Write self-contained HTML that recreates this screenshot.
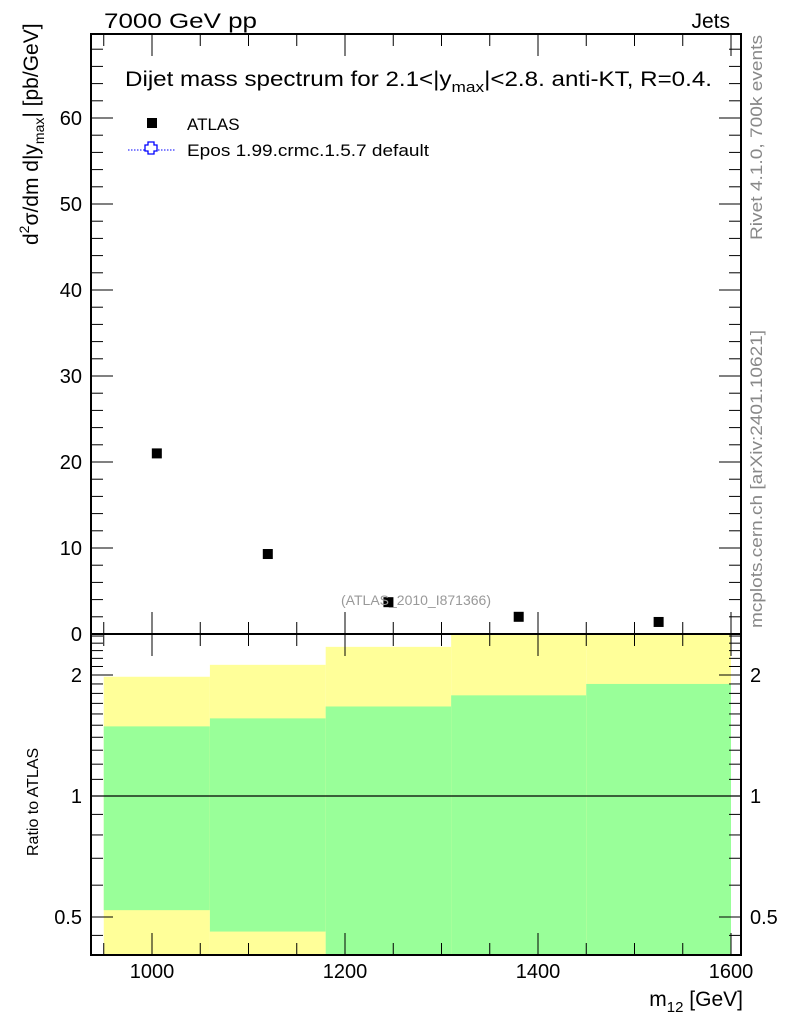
<!DOCTYPE html>
<html><head><meta charset="utf-8"><style>
body{margin:0;background:#fff;}
text{font-family:"Liberation Sans",sans-serif;}
</style></head><body>
<svg id="c" width="786" height="1024" xmlns="http://www.w3.org/2000/svg">
<g id="bands"></g>
<g id="axes"></g>
<g id="marks"></g>
<text x="104" y="28" font-size="21" textLength="153" lengthAdjust="spacingAndGlyphs">7000 GeV pp</text>
<text x="730" y="28" font-size="21" text-anchor="end">Jets</text>
<text x="125" y="86" font-size="21" textLength="587" lengthAdjust="spacingAndGlyphs">Dijet mass spectrum for 2.1&lt;|y<tspan font-size="15" dy="6">max</tspan><tspan dy="-6">|&lt;2.8.  anti-KT, R=0.4.</tspan></text>
<rect x="147" y="118" width="10" height="10" fill="#000"/>
<text x="187" y="130" font-size="17">ATLAS</text>
<line x1="128" y1="150" x2="175" y2="150" stroke="#00f" stroke-dasharray="1.5,1.5"/>
<path d="M148,145h6v3h3v6h-3v3h-6v-3h-3v-6h3z" transform="translate(0,-3)" fill="#fff" stroke="#00f" stroke-width="1.3"/>
<text x="187" y="156" font-size="17" textLength="242" lengthAdjust="spacingAndGlyphs">Epos 1.99.crmc.1.5.7 default</text>
<text x="416" y="605" font-size="14" fill="#999" text-anchor="middle">(ATLAS_2010_I871366)</text>
<text transform="translate(762,240) rotate(-90)" font-size="17" fill="#888" textLength="205" lengthAdjust="spacingAndGlyphs">Rivet 4.1.0,  700k events</text>
<text transform="translate(762,628) rotate(-90)" font-size="17" fill="#888" textLength="298" lengthAdjust="spacingAndGlyphs">mcplots.cern.ch [arXiv:2401.10621]</text>
<text transform="translate(38,245) rotate(-90)" font-size="21">d<tspan font-size="14" dy="-9">2</tspan><tspan dy="9">σ/dm d|y</tspan><tspan font-size="14" dy="6">max</tspan><tspan dy="-6">| [pb/GeV]</tspan></text>
<text transform="translate(38,856) rotate(-90)" font-size="16">Ratio to ATLAS</text>
<text x="743" y="1006" font-size="21" text-anchor="end">m<tspan font-size="15" dy="6">12</tspan><tspan dy="-6"> [GeV]</tspan></text>
</svg>
<script>
const massPoints=[1005,1120,1245,1380,1525];
const atlasValues=[21,9.3,3.7,2.0,1.4];
const binEdges=[950,1060,1180,1310,1450,1600];
const yellowHi=[1.98,2.12,2.35,2.6,2.6];
const greenHi=[1.49,1.56,1.67,1.78,1.9];
const greenLo=[0.52,0.46,0.3,0.3,0.3];
const yellowLo=[0.3,0.3,0.3,0.3,0.3];
const xTicks=[1000,1200,1400,1600];
const yTicks=[0,10,20,30,40,50,60];
const rTicks=[0.5,1,2];
const L=91,R=741,T=34,M=634,B=955;
const X=v=>152+(v-1000)*0.965;
const Y=v=>634-v*8.6;
const RY=v=>796-Math.log2(v)*121;
const NS='http://www.w3.org/2000/svg';
function mk(p,t,a){const e=document.createElementNS(NS,t);for(const k in a)e.setAttribute(k,a[k]);document.getElementById(p).appendChild(e);return e;}
const clipT=v=>Math.max(M,Math.min(B,RY(v)));
for(let i=0;i<binEdges.length-1;i++){
 const x1=X(binEdges[i]),x2=X(binEdges[i+1]);
 let e=mk('bands','rect',{x:x1,y:clipT(yellowHi[i]),width:x2-x1,height:clipT(yellowLo[i])-clipT(yellowHi[i]),fill:'#ffff99'});
 
 
 e=mk('bands','rect',{x:x1,y:clipT(greenHi[i]),width:x2-x1,height:clipT(greenLo[i])-clipT(greenHi[i]),fill:'#99ff99'});
 
 
}
let ln=mk('axes','line',{x1:L,y1:RY(1),x2:R,y2:RY(1),stroke:'#000','stroke-width':1.2});


let fr=mk('axes','rect',{x:L,y:T,width:R-L,height:B-T,fill:'none',stroke:'#000','stroke-width':2});


mk('axes','line',{x1:L,y1:M,x2:R,y2:M,stroke:'#000','stroke-width':2});
for(let v=950;v<=1600;v+=50){const x=X(v),maj=v%200==0,len=maj?22:12;
 mk('axes','line',{x1:x,y1:T,x2:x,y2:T+len,stroke:'#000'});
 mk('axes','line',{x1:x,y1:M-len,x2:x,y2:M+len,stroke:'#000'});
 mk('axes','line',{x1:x,y1:B-len,x2:x,y2:B,stroke:'#000'});}
xTicks.forEach(v=>{const t=mk('axes','text',{x:X(v),y:978,'font-size':20,'text-anchor':'middle'});t.textContent=v;
 
 });
for(let v=0;v<=68;v+=2){const y=Y(v),len=v%10==0?22:12;
 mk('axes','line',{x1:L,y1:y,x2:L+len,y2:y,stroke:'#000'});
 mk('axes','line',{x1:R-len,y1:y,x2:R,y2:y,stroke:'#000'});}
yTicks.forEach(v=>{const t=mk('axes','text',{x:82,y:Y(v)+7,'font-size':20,'text-anchor':'end'});t.textContent=v;
 
 });
[0.5,0.6,0.7,0.8,0.9,1,1.1,1.2,1.3,1.4,1.5,1.6,1.7,1.8,1.9,2,2.1,2.2,2.3,2.4,2.5,0.45].forEach(v=>{const y=RY(v),len=rTicks.includes(v)?22:12;
 mk('axes','line',{x1:L,y1:y,x2:L+len,y2:y,stroke:'#000'});
 mk('axes','line',{x1:R-len,y1:y,x2:R,y2:y,stroke:'#000'});});
rTicks.forEach(v=>{let t=mk('axes','text',{x:82,y:RY(v)+7,'font-size':20,'text-anchor':'end'});t.textContent=v;
 
 
 t=mk('axes','text',{x:750,y:RY(v)+7,'font-size':20});t.textContent=v;
 
 });
massPoints.forEach((m,i)=>{const y=Y(atlasValues[i]);if(y>M+6)return;
 const r=mk('marks','rect',{x:X(m)-5,y:y-5,width:10,height:10,fill:'#000'});
 
 });
</script>
</body></html>
